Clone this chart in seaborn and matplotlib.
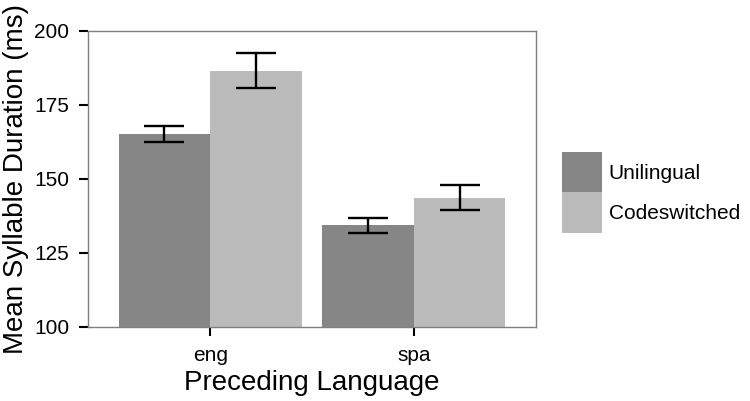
import matplotlib
matplotlib.use("Agg")
import matplotlib.pyplot as plt
import seaborn as sns
import pandas as pd
import numpy as np
from matplotlib.patches import Patch

languages = ["eng", "spa"]
conditions = ["Unilingual", "Codeswitched"]
uni_means = [165.3, 134.3]
code_means = [186.5, 143.7]
uni_lo = [162.6, 131.9]
uni_hi = [168.0, 136.9]
code_lo = [180.6, 139.5]
code_hi = [192.7, 148.1]
colors = ["#868686", "#bbbbbb"]
yticks = [100, 125, 150, 175, 200]

df = pd.DataFrame({
    "lang": languages * 2,
    "cond": [conditions[0]] * 2 + [conditions[1]] * 2,
    "mean": uni_means + code_means,
    "lo": uni_lo + code_lo,
    "hi": uni_hi + code_hi,
})

sns.set_style("white")
plt.rcParams["font.family"] = ["Liberation Sans", "DejaVu Sans"]
plt.rcParams["text.color"] = "black"
plt.rcParams["axes.labelcolor"] = "black"

fig = plt.figure(figsize=(7.5, 4.01), dpi=100)
ax = fig.add_axes([88/750, 1-327/401, (536-88)/750, (327-31)/401])

sns.barplot(data=df, x="lang", y="mean", hue="cond", order=languages,
            hue_order=conditions, palette=colors, saturation=1, width=0.9,
            errorbar=None, ax=ax, legend=False, edgecolor="none", linewidth=0)

# error bars at bar centers
for patch_list, lo, hi in [(ax.patches[0:2], uni_lo, uni_hi), (ax.patches[2:4], code_lo, code_hi)]:
    for p, l, h in zip(patch_list, lo, hi):
        xc = p.get_x() + p.get_width() / 2
        mid = (l + h) / 2
        ax.errorbar([xc], [mid], yerr=[[mid - l], [h - mid]], fmt="none",
                    ecolor="black", elinewidth=1.7, capsize=14.4, capthick=1.7)

ax.set_ylim(100, 200)
ax.set_xlim(-0.6, 1.6)
ax.set_yticks(yticks)
ax.set_yticklabels([str(t) for t in yticks])
for s in ax.spines.values():
    s.set_visible(True)
    s.set_color("#7f7f7f")
    s.set_linewidth(1.0)
ax.tick_params(axis="both", which="major", direction="out", length=6.5, width=1.5,
               color="black", labelsize=15, labelcolor="black",
               left=True, bottom=True)
ax.tick_params(axis="y", pad=7)
ax.tick_params(axis="x", pad=7)
ax.set_xlabel("Preceding Language", fontsize=20, labelpad=4, color="black")
ax.set_ylabel("Mean Syllable Duration (ms)", fontsize=20, labelpad=4, color="black")

handles = [Patch(facecolor=c, edgecolor="none") for c in colors]
fig.legend(handles, conditions, loc="center left", bbox_to_anchor=(562/750, 1-192.5/401),
           frameon=False, fontsize=15, handlelength=1.92, handleheight=2.6,
           labelspacing=0, handletextpad=0.33, borderpad=0, borderaxespad=0,
           labelcolor="black")

fig.savefig("out.png", dpi=100)
